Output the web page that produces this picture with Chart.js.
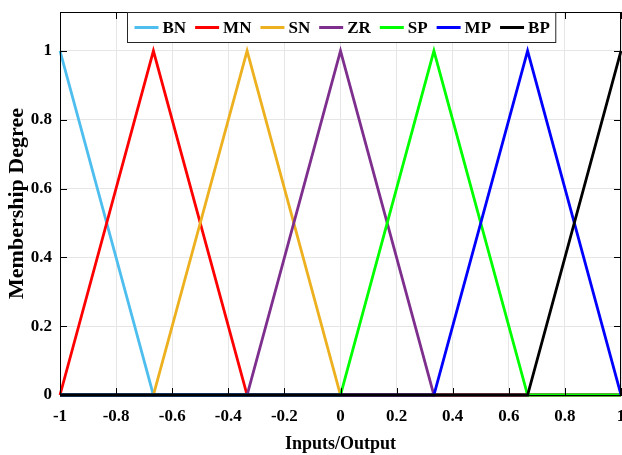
<!DOCTYPE html>
<html>
<head>
<meta charset="utf-8">
<script src="https://cdn.jsdelivr.net/npm/chart.js@4.4.1/dist/chart.umd.min.js"></script>
<style>
  html, body { margin: 0; padding: 0; background: #fff; }
  canvas { display: block; }
</style>
</head>
<body>
<canvas id="mfChart" width="622" height="455"></canvas>
<script>
// ----- Data -----
const xPoints = [-1, -0.667, -0.333, 0, 0.333, 0.667, 1];
const seriesNames = ['BN', 'MN', 'SN', 'ZR', 'SP', 'MP', 'BP'];
const bnValues = [1, 0, 0, 0, 0, 0, 0];
const mnValues = [0, 1, 0, 0, 0, 0, 0];
const snValues = [0, 0, 1, 0, 0, 0, 0];
const zrValues = [0, 0, 0, 1, 0, 0, 0];
const spValues = [0, 0, 0, 0, 1, 0, 0];
const mpValues = [0, 0, 0, 0, 0, 1, 0];
const bpValues = [0, 0, 0, 0, 0, 0, 1];
const xTicks = [-1, -0.8, -0.6, -0.4, -0.2, 0, 0.2, 0.4, 0.6, 0.8, 1];
const yTicks = [0, 0.2, 0.4, 0.6, 0.8, 1];

const seriesColors = ['#4DBEEE', '#FF0000', '#EDB120', '#7E2F8E', '#00FF00', '#0000FF', '#000000'];
const allValues = [bnValues, mnValues, snValues, zrValues, spValues, mpValues, bpValues];
const FONT = "'Liberation Serif', 'Times New Roman', serif";

// ----- Plugins -----
// box around the plot + inward tick marks (MATLAB style)
const frameTicks = {
  id: 'frameTicks',
  afterDatasetsDraw(chart) {
    const { ctx, chartArea: a, scales } = chart;
    ctx.save();
    ctx.strokeStyle = '#000';
    ctx.lineWidth = 1;
    ctx.strokeRect(a.left + 0.5, a.top + 0.5, a.right - a.left - 1, a.bottom - a.top);
    ctx.beginPath();
    xTicks.forEach(v => {
      const px = Math.round(scales.x.getPixelForValue(v)) + 0.5;
      ctx.moveTo(px, a.bottom); ctx.lineTo(px, a.bottom - 7);
      ctx.moveTo(px, a.top); ctx.lineTo(px, a.top + 7);
    });
    yTicks.forEach(v => {
      const py = Math.round(scales.y.getPixelForValue(v)) + 0.5;
      ctx.moveTo(a.left, py); ctx.lineTo(a.left + 7, py);
      ctx.moveTo(a.right, py); ctx.lineTo(a.right - 7, py);
    });
    ctx.stroke();
    ctx.restore();
  }
};

// legend drawn inside the plot, top centre
const insideLegend = {
  id: 'insideLegend',
  afterDraw(chart) {
    const { ctx, chartArea: a } = chart;
    ctx.save();
    ctx.font = 'bold 17px ' + FONT;
    const lineLen = 24, gapText = 4, gapItem = 9, padL = 7, padR = 6;
    let total = padL + padR;
    const widths = seriesNames.map(n => ctx.measureText(n).width);
    widths.forEach((w, i) => { total += lineLen + gapText + w + (i < widths.length - 1 ? gapItem : 0); });
    const boxH = 30;
    const x0 = Math.round(341 - total / 2) + 0.5;
    const y0 = a.top + 0.5;
    ctx.fillStyle = '#fff';
    ctx.fillRect(x0, y0, total, boxH);
    ctx.strokeStyle = '#262626';
    ctx.lineWidth = 1;
    ctx.strokeRect(x0, y0, total, boxH);
    let x = x0 + padL;
    const yc = y0 + boxH / 2;
    ctx.textBaseline = 'middle';
    ctx.textAlign = 'left';
    seriesNames.forEach((n, i) => {
      ctx.strokeStyle = seriesColors[i];
      ctx.lineWidth = 3;
      ctx.beginPath();
      ctx.moveTo(x, yc); ctx.lineTo(x + lineLen, yc);
      ctx.stroke();
      x += lineLen + gapText;
      ctx.fillStyle = '#000';
      ctx.fillText(n, x, yc + 1);
      x += widths[i] + gapItem;
    });
    ctx.restore();
  }
};

// ----- Chart -----
const datasets = seriesNames.map((name, i) => ({
  label: name,
  data: xPoints.map((x, k) => ({ x: x, y: allValues[i][k] })),
  borderColor: seriesColors[i],
  backgroundColor: seriesColors[i],
  borderWidth: 2.8,
  pointRadius: 0,
  tension: 0,
  fill: false,
  order: seriesNames.length - i
}));

const fmt = v => String(Math.round(v * 10) / 10);

new Chart(document.getElementById('mfChart').getContext('2d'), {
  type: 'line',
  data: { datasets: datasets },
  options: {
    responsive: false,
    animation: false,
    clip: false,
    layout: { padding: { top: 12, right: 1, left: 0, bottom: 0 } },
    plugins: { legend: { display: false }, tooltip: { enabled: false } },
    scales: {
      x: {
        type: 'linear',
        min: -1,
        max: 1,
        afterBuildTicks: s => { s.ticks = xTicks.map(v => ({ value: v })); },
        afterFit: s => { s.height = 60; s.paddingLeft = 0; s.paddingRight = 0; },
        grid: { color: '#e6e6e6', drawTicks: false },
        border: { display: true, color: '#000' },
        ticks: {
          color: '#000',
          padding: 11,
          maxRotation: 0,
          autoSkip: false,
          font: { family: FONT, size: 17, weight: 'bold' },
          callback: v => fmt(v)
        },
        title: {
          display: true,
          text: 'Inputs/Output',
          color: '#000',
          font: { family: FONT, size: 18, weight: 'bold' },
          padding: { top: 0, bottom: 0 }
        }
      },
      y: {
        type: 'linear',
        min: 0,
        max: 1.113,
        afterBuildTicks: s => { s.ticks = yTicks.map(v => ({ value: v })); },
        afterFit: s => { s.width = 60; s.paddingTop = 0; s.paddingBottom = 0; },
        grid: { color: '#e6e6e6', drawTicks: false },
        border: { display: true, color: '#000' },
        ticks: {
          color: '#000',
          padding: 8,
          autoSkip: false,
          font: { family: FONT, size: 17, weight: 'bold' },
          callback: v => fmt(v)
        },
        title: {
          display: true,
          text: 'Membership Degree',
          color: '#000',
          font: { family: FONT, size: 22, weight: 'bold' },
          padding: { top: 4, bottom: 0 }
        }
      }
    }
  },
  plugins: [frameTicks, insideLegend]
});
</script>
</body>
</html>
